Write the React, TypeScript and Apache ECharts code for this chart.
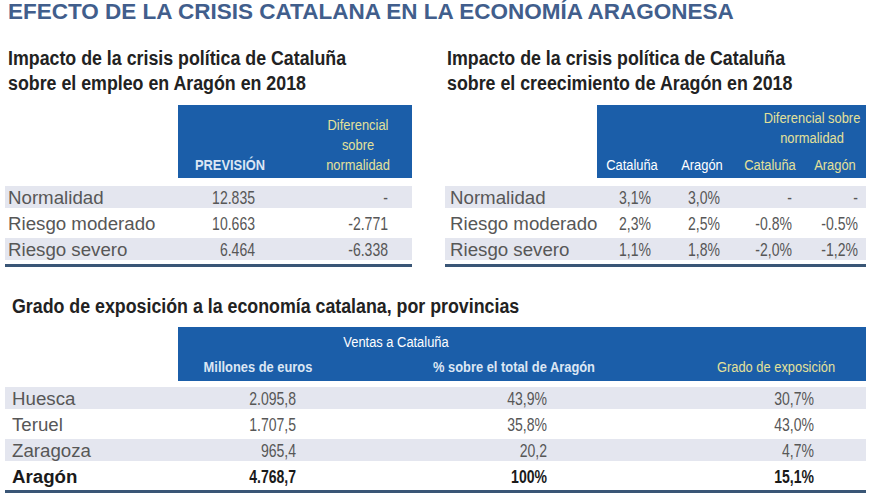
import React, { useEffect, useRef } from "react";
import * as echarts from "echarts";

// ---- data ----
const mainTitle = "EFECTO DE LA CRISIS CATALANA EN LA ECONOMÍA ARAGONESA";
const empleoTitle = ["Impacto de la crisis política de Cataluña", "sobre el empleo en Aragón en 2018"];
const escenarios = ["Normalidad", "Riesgo moderado", "Riesgo severo"];
const empleoHeader = ["PREVISIÓN"];
const empleoDifHeader = ["Diferencial", "sobre", "normalidad"];
const empleoPrevision = ["12.835", "10.663", "6.464"];
const empleoDiferencial = ["-", "-2.771", "-6.338"];

const crecTitle = ["Impacto de la crisis política de Cataluña", "sobre el creecimiento de Aragón en 2018"];
const crecDifHeader = ["Diferencial sobre", "normalidad"];
const crecColumns = ["Cataluña", "Aragón", "Cataluña", "Aragón"];
const crecCataluna = ["3,1%", "2,3%", "1,1%"];
const crecAragon = ["3,0%", "2,5%", "1,8%"];
const difCataluna = ["-", "-0.8%", "-2,0%"];
const difAragon = ["-", "-0.5%", "-1,2%"];

const expoTitle = "Grado de exposición a la economía catalana, por provincias";
const expoGroupHeader = "Ventas a Cataluña";
const expoColumns = ["Millones de euros", "% sobre el total de Aragón", "Grado de exposición"];
const provincias = ["Huesca", "Teruel", "Zaragoza", "Aragón"];
const ventasMillones = ["2.095,8", "1.707,5", "965,4", "4.768,7"];
const ventasPct = ["43,9%", "35,8%", "20,2", "100%"];
const gradoExposicion = ["30,7%", "43,0%", "4,7%", "15,1%"];

// ---- styles ----
const FONT = "Liberation Sans, Arial, Helvetica, sans-serif";
const BLUE = "#1b5ea9";
const PALE = "#dbe6f4";
const YELLOW = "#e4e199";
const BAND = "#e4e6ef";
const LINE = "#3a5676";
const GRAY = "#575757";

function txt(x: number, y: number, text: string, o: any = {}) {
  return {
    type: "text",
    x,
    y,
    scaleX: o.scaleX ?? 1,
    silent: true,
    style: {
      x: 0,
      y: 0,
      text,
      fill: o.fill ?? GRAY,
      fontFamily: FONT,
      fontSize: o.size ?? 17,
      fontWeight: o.weight ?? "normal",
      textAlign: o.align ?? "left",
      align: o.align ?? "left",
      textVerticalAlign: "middle",
      verticalAlign: "middle",
    },
  };
}

function rect(x: number, y: number, w: number, h: number, fill: string) {
  return { type: "rect", silent: true, shape: { x, y, width: w, height: h }, style: { fill } };
}

function buildElements() {
  const els: any[] = [];
  // main title
  els.push(txt(8, 11.5, mainTitle, { size: 22.5, weight: "bold", fill: "#415e8c" }));

  const subOpts = { size: 20, weight: "bold", fill: "#222", scaleX: 0.89 };
  const labelOpts = { size: 18.7 };
  const numOpts = (align: string, extra: any = {}) => ({ size: 18, scaleX: 0.78, align, ...extra });
  const hdrOpts = (fill: string, align = "center", weight = "normal") => ({ size: 15, scaleX: 0.86, fill, align, weight });

  const rowY = [197, 223, 249];
  const bandTop = (y: number) => y - 11;

  // ---- Table 1 ----
  empleoTitle.forEach((t, i) => els.push(txt(8, 58 + i * 25, t, subOpts)));
  els.push(rect(178, 105, 234, 73, BLUE));
  els.push(txt(230, 165, empleoHeader[0], hdrOpts(PALE, "center", "bold")));
  empleoDifHeader.forEach((t, i) => els.push(txt(358, 125 + i * 20, t, hdrOpts(YELLOW))));
  escenarios.forEach((s, i) => {
    if (i % 2 === 0) els.push(rect(5, bandTop(rowY[i]), 407, 22, BAND));
  });
  escenarios.forEach((s, i) => {
    els.push(txt(8, rowY[i], s, labelOpts));
    els.push(txt(255, rowY[i], empleoPrevision[i], numOpts("right")));
    els.push(txt(388, rowY[i], empleoDiferencial[i], numOpts("right")));
  });
  els.push(rect(5, 264, 407, 3, LINE));

  // ---- Table 2 ----
  crecTitle.forEach((t, i) => els.push(txt(447, 58 + i * 25, t, subOpts)));
  els.push(rect(597, 105, 269, 73, BLUE));
  crecDifHeader.forEach((t, i) => els.push(txt(812, 118 + i * 20, t, hdrOpts(YELLOW))));
  const crecColX = [632, 702, 770, 835];
  crecColumns.forEach((c, i) => els.push(txt(crecColX[i], 165, c, hdrOpts(i < 2 ? "#ffffff" : YELLOW))));
  escenarios.forEach((s, i) => {
    if (i % 2 === 0) els.push(rect(445, bandTop(rowY[i]), 421, 22, BAND));
  });
  const crecRight = [651, 720, 792, 858];
  const crecCols = [crecCataluna, crecAragon, difCataluna, difAragon];
  escenarios.forEach((s, i) => {
    els.push(txt(450, rowY[i], s, labelOpts));
    crecCols.forEach((col, j) => els.push(txt(crecRight[j], rowY[i], col[i], numOpts("right"))));
  });
  els.push(rect(445, 264, 421, 3, LINE));

  // ---- Table 3 ----
  els.push(txt(12, 306, expoTitle, subOpts));
  els.push(rect(178, 327, 688, 54, BLUE));
  els.push(txt(396, 342, expoGroupHeader, hdrOpts("#ffffff")));
  const expoHdrX = [258, 514, 776];
  expoColumns.forEach((c, i) => els.push(txt(expoHdrX[i], 367, c, hdrOpts(i < 2 ? PALE : YELLOW, "center", i < 2 ? "bold" : "normal"))));
  const expoY = [398, 424, 450, 476];
  provincias.forEach((p, i) => {
    if (i % 2 === 0 && i < 3) els.push(rect(5, expoY[i] - 11, 861, 22, BAND));
  });
  const expoRight = [296, 547, 814];
  const expoCols = [ventasMillones, ventasPct, gradoExposicion];
  provincias.forEach((p, i) => {
    const last = i === provincias.length - 1;
    const extra = last ? { weight: "bold", fill: "#1a1a1a" } : {};
    els.push(txt(12, expoY[i], p, { ...labelOpts, ...extra }));
    expoCols.forEach((col, j) => els.push(txt(expoRight[j], expoY[i], col[i], numOpts("right", extra))));
  });
  els.push(rect(5, 490, 861, 3, LINE));
  return els;
}

export default function App() {
  const ref = useRef<HTMLDivElement>(null);
  useEffect(() => {
    document.body.style.margin = "0";
    const chart = echarts.init(ref.current!, null, { renderer: "svg" });
    chart.setOption({
      animation: false,
      backgroundColor: "#ffffff",
      graphic: { elements: buildElements() },
    });
    return () => chart.dispose();
  }, []);
  return <div ref={ref} style={{ position: "fixed", left: 0, top: 0, width: 880, height: 495 }} />;
}
